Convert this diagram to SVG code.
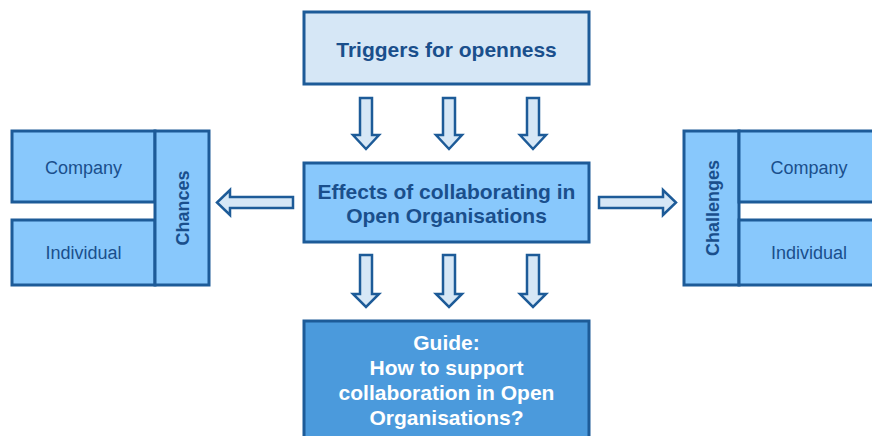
<svg xmlns="http://www.w3.org/2000/svg" width="872" height="436" viewBox="0 0 872 436">
<style>
.box{stroke:#1d5b98;stroke-width:3}
.lt{fill:#d6e7f6}
.md{fill:#88c8fc}
.dk{fill:#4b9adc}
.arr{fill:#d6e7f6;stroke:#1d5b98;stroke-width:2.5;stroke-linejoin:miter}
text{font-family:"Liberation Sans",Arial,sans-serif;text-anchor:middle}
.b{font-weight:bold;font-size:21px;fill:#1a4f8c}
.w{font-weight:bold;font-size:21px;fill:#ffffff}
.r{font-size:18px;fill:#1a4f8c}
.v{font-weight:bold;font-size:18px;fill:#1a4f8c}
</style>
<rect width="872" height="436" fill="#ffffff"/>
<g id="triggers">
<rect class="box lt" x="304" y="12" width="285" height="72"/>
<text class="b" x="446.5" y="57">Triggers for openness</text>
</g>
<g id="effects">
<rect class="box md" x="304" y="163" width="285" height="79"/>
<text class="b" x="446.5" y="199">Effects of collaborating in</text>
<text class="b" x="446.5" y="223">Open Organisations</text>
</g>
<g id="guide">
<rect class="box dk" x="304" y="321" width="285" height="130"/>
<text class="w" x="446.5" y="350">Guide:</text>
<text class="w" x="446.5" y="375">How to support</text>
<text class="w" x="446.5" y="400">collaboration in Open</text>
<text class="w" x="446.5" y="425">Organisations?</text>
</g>
<g id="chances-company">
<rect class="box md" x="12" y="131" width="143" height="71"/>
<text class="r" x="83.5" y="174">Company</text>
</g>
<g id="chances-individual">
<rect class="box md" x="12" y="220" width="143" height="65"/>
<text class="r" x="83.5" y="259">Individual</text>
</g>
<g id="chances">
<rect class="box md" x="155" y="131" width="54" height="154"/>
<text class="v" transform="translate(188.5,208) rotate(-90)">Chances</text>
</g>
<g id="challenges">
<rect class="box md" x="684" y="131" width="55" height="154"/>
<text class="v" transform="translate(718.5,208) rotate(-90)">Challenges</text>
</g>
<g id="challenges-company">
<rect class="box md" x="739" y="131" width="140" height="71"/>
<text class="r" x="809" y="174">Company</text>
</g>
<g id="challenges-individual">
<rect class="box md" x="739" y="220" width="140" height="65"/>
<text class="r" x="809" y="259">Individual</text>
</g>
<g id="connectors">
<path class="arr" d="M360,98 H372 V135 H379 L366,149 L353,135 H360 Z"/>
<path class="arr" d="M443,98 H455 V135 H462 L449,149 L436,135 H443 Z"/>
<path class="arr" d="M527,98 H539 V135 H546 L533,149 L520,135 H527 Z"/>
<path class="arr" d="M360,255 H372 V294 H379 L366,307 L353,294 H360 Z"/>
<path class="arr" d="M443,255 H455 V294 H462 L449,307 L436,294 H443 Z"/>
<path class="arr" d="M527,255 H539 V294 H546 L533,307 L520,294 H527 Z"/>
<path class="arr" d="M293,197 V208 H230 V215 L217,202.5 L230,190 V197 Z"/>
<path class="arr" d="M599,197 V208 H663 V215 L676,202.5 L663,190 V197 Z"/>
</g>
</svg>
